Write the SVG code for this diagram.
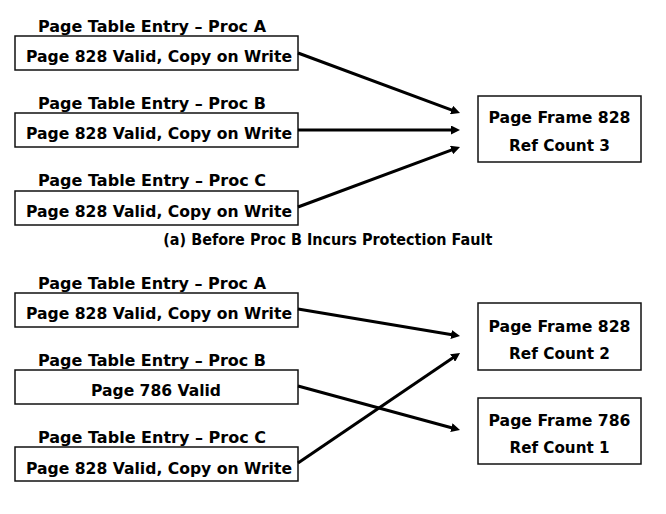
<svg xmlns="http://www.w3.org/2000/svg" width="666" height="514" viewBox="0 0 666 514">
<style>
text{font-family:"DejaVu Sans","Verdana","Liberation Sans",sans-serif;font-weight:bold;font-size:16px;fill:#000;lengthAdjust:spacingAndGlyphs}
.box{fill:#fff;stroke:#111;stroke-width:1.5}
.c{text-anchor:middle}
.conn{stroke:#000;stroke-width:3;fill:none;marker-end:url(#ah)}
</style>
<defs>
<marker id="ah" viewBox="0 0 9 9" refX="4" refY="4.5" markerWidth="9" markerHeight="9" markerUnits="userSpaceOnUse" orient="auto">
<path d="M0,0 L9,4.5 L0,9 Z" fill="#000"/>
</marker>
</defs>
<rect width="666" height="514" fill="#fff"/>

<g id="top-pte-a">
<text x="38" y="32" textLength="228" lengthAdjust="spacingAndGlyphs">Page Table Entry – Proc A</text>
<rect class="box" x="15" y="36" width="283" height="34"/>
<text x="26" y="62" textLength="266" lengthAdjust="spacingAndGlyphs">Page 828 Valid, Copy on Write</text>
</g>
<g id="top-pte-b">
<text x="38" y="109" textLength="228" lengthAdjust="spacingAndGlyphs">Page Table Entry – Proc B</text>
<rect class="box" x="15" y="113" width="283" height="34"/>
<text x="26" y="139" textLength="266" lengthAdjust="spacingAndGlyphs">Page 828 Valid, Copy on Write</text>
</g>
<g id="top-pte-c">
<text x="38" y="186" textLength="228" lengthAdjust="spacingAndGlyphs">Page Table Entry – Proc C</text>
<rect class="box" x="15" y="191" width="283" height="34"/>
<text x="26" y="217" textLength="266" lengthAdjust="spacingAndGlyphs">Page 828 Valid, Copy on Write</text>
</g>
<g id="top-frame-828">
<rect class="box" x="478" y="96" width="163" height="66"/>
<text class="c" x="559.5" y="123" textLength="142" lengthAdjust="spacingAndGlyphs">Page Frame 828</text>
<text class="c" x="559.5" y="151" textLength="101" lengthAdjust="spacingAndGlyphs">Ref Count 3</text>
</g>
<g id="caption-a">
<text class="c" x="327.8" y="245" textLength="329" lengthAdjust="spacingAndGlyphs">(a) Before Proc B Incurs Protection Fault</text>
</g>

<g id="bot-pte-a">
<text x="38" y="289" textLength="228" lengthAdjust="spacingAndGlyphs">Page Table Entry – Proc A</text>
<rect class="box" x="15" y="293" width="283" height="34"/>
<text x="26" y="319" textLength="266" lengthAdjust="spacingAndGlyphs">Page 828 Valid, Copy on Write</text>
</g>
<g id="bot-pte-b">
<text x="38" y="366" textLength="228" lengthAdjust="spacingAndGlyphs">Page Table Entry – Proc B</text>
<rect class="box" x="15" y="370" width="283" height="34"/>
<text class="c" x="156" y="396" textLength="130" lengthAdjust="spacingAndGlyphs">Page 786 Valid</text>
</g>
<g id="bot-pte-c">
<text x="38" y="443" textLength="228" lengthAdjust="spacingAndGlyphs">Page Table Entry – Proc C</text>
<rect class="box" x="15" y="447" width="283" height="34"/>
<text x="26" y="474" textLength="266" lengthAdjust="spacingAndGlyphs">Page 828 Valid, Copy on Write</text>
</g>
<g id="bot-frame-828">
<rect class="box" x="478" y="303" width="163" height="67"/>
<text class="c" x="559.5" y="332" textLength="142" lengthAdjust="spacingAndGlyphs">Page Frame 828</text>
<text class="c" x="559.5" y="359" textLength="101" lengthAdjust="spacingAndGlyphs">Ref Count 2</text>
</g>
<g id="bot-frame-786">
<rect class="box" x="478" y="398" width="163" height="66"/>
<text class="c" x="559.5" y="426" textLength="142" lengthAdjust="spacingAndGlyphs">Page Frame 786</text>
<text class="c" x="559.5" y="453" textLength="100" lengthAdjust="spacingAndGlyphs">Ref Count 1</text>
</g>

<g id="connectors">
<line class="conn" x1="298" y1="53" x2="455.3" y2="111.3"/>
<line class="conn" x1="298" y1="130" x2="455" y2="130"/>
<line class="conn" x1="298" y1="207" x2="455.3" y2="148.7"/>
<line class="conn" x1="298" y1="309" x2="455.1" y2="335.2"/>
<line class="conn" x1="298" y1="386" x2="455.2" y2="428.7"/>
<line class="conn" x1="298" y1="463" x2="455.9" y2="355.8"/>
</g>
</svg>
